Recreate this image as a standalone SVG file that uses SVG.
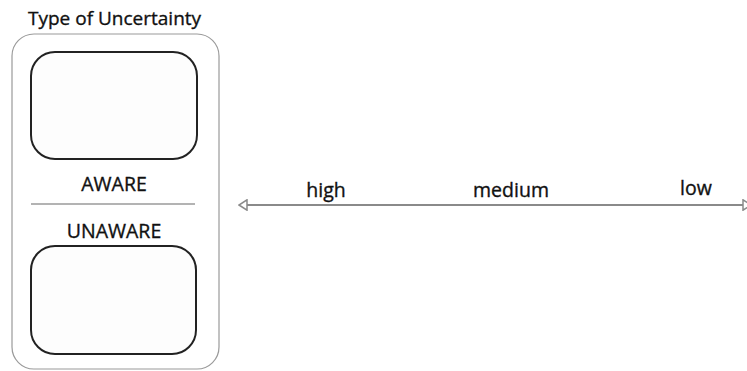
<svg xmlns="http://www.w3.org/2000/svg" width="747" height="371" viewBox="0 0 747 371">
  <style>
    text { font-family: "Open Sans", "Liberation Sans", sans-serif; fill: #111; stroke: #111; stroke-width: 0.35; }
    .title { font-size: 19px; }
    .cat { font-size: 19.5px; text-anchor: middle; }
    .lvl { font-size: 19.5px; text-anchor: middle; }
    .panel { fill: none; stroke: #9a9a9a; stroke-width: 1.2; }
    .slot { fill: #fdfdfd; stroke: #222; stroke-width: 2; }
    .rule { stroke: #9a9a9a; stroke-width: 1.5; }
    .scale { stroke: #8a8a8a; stroke-width: 2; fill: none; }
  </style>
  <defs>
    <!-- open triangle, tip on the line end; reversed at the start -->
    <marker id="openTri" viewBox="0 0 10 12" refX="9" refY="6" markerWidth="10" markerHeight="12" markerUnits="userSpaceOnUse" orient="auto-start-reverse">
      <path d="M9,6 L1,0.8 L1,11.2 Z" fill="#fff" stroke="#8a8a8a" stroke-width="1.5"/>
    </marker>
  </defs>
  <rect width="747" height="371" fill="#fff"/>

  <text class="title" x="28" y="25">Type of Uncertainty</text>

  <g id="panel">
    <rect class="panel" x="12" y="34" width="207" height="335" rx="22" ry="22"/>
    <line class="rule" x1="31" y1="204" x2="195" y2="204"/>
  </g>

  <g id="aware">
    <rect class="slot" x="31" y="52" width="166" height="107" rx="24" ry="24"/>
    <text class="cat" x="114" y="191">AWARE</text>
  </g>

  <g id="unaware">
    <text class="cat" x="114" y="238">UNAWARE</text>
    <rect class="slot" x="31" y="246" width="165" height="108" rx="24" ry="24"/>
  </g>

  <g id="connectors">
    <line class="scale" x1="239" y1="205" x2="751" y2="205" marker-start="url(#openTri)" marker-end="url(#openTri)"/>
  </g>

  <g id="levels">
    <text class="lvl" x="326" y="197">high</text>
    <text class="lvl" x="511" y="197">medium</text>
    <text class="lvl" x="696" y="195">low</text>
  </g>
</svg>
